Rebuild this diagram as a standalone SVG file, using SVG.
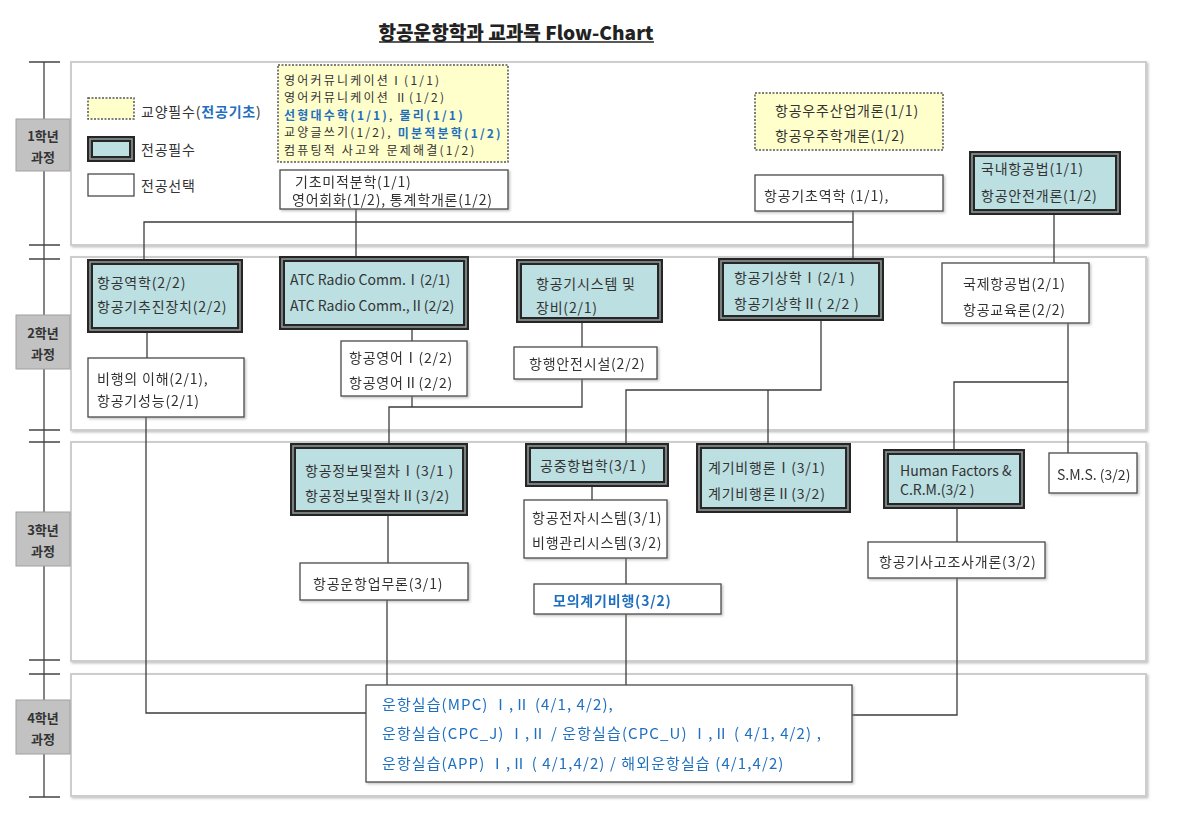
<svg xmlns="http://www.w3.org/2000/svg" width="1186" height="821" viewBox="0 0 1186 821">
<style>
.t{font-family:"Noto Sans CJK KR","Noto Sans",sans-serif;font-size:14px;letter-spacing:0.8px;fill:#333;dominant-baseline:central}
.en{letter-spacing:0}
.sm{font-size:12px;letter-spacing:2.2px}
.bl{fill:#1f6fbf}
.bb{fill:#1f6fbf;font-weight:bold}
.big{font-size:15px;letter-spacing:1.1px;fill:#1f6fbf}
.panel{fill:#fff;stroke:#cdcdcd;stroke-width:2}
.wbox{fill:#fff;stroke:#4a4a4a;stroke-width:1.3}
.ybox{fill:#ffffcc;stroke:#555;stroke-width:1.5;stroke-dasharray:2 1.5}
.tbox{fill:#bcdfe2;stroke:#262626;stroke-width:6}
.tin{fill:none;stroke:#8d9696;stroke-width:1.6}
.conn{fill:none;stroke:#3c3c3c;stroke-width:1.3}
.yr{fill:#c2c2c2;stroke:#a0a0a0;stroke-width:1}
.yt{font-family:"Noto Sans CJK KR","Noto Sans",sans-serif;font-size:13px;font-weight:bold;fill:#333;text-anchor:middle;dominant-baseline:central}
.tl{stroke:#444;stroke-width:1.3;fill:none}
</style>
<defs>
<filter id="sh" x="-5%" y="-5%" width="115%" height="125%">
<feDropShadow dx="1.5" dy="1.5" stdDeviation="0.8" flood-color="#888" flood-opacity="0.5"/>
</filter>
</defs>
<rect width="1186" height="821" fill="#fff"/>

<g id="title">
<text x="516" y="31" text-anchor="middle" textLength="275" lengthAdjust="spacingAndGlyphs" style="font-family:'Noto Sans CJK KR','Noto Sans',sans-serif;font-size:19px;font-weight:900;fill:#222;dominant-baseline:central">항공운항학과 교과목 Flow-Chart</text>
<line x1="379" y1="42" x2="654" y2="42" stroke="#222" stroke-width="1.6"/>
</g>

<g id="timeline">
<path class="tl" d="M44,62 V797 M29,62 H60 M29,245 H60 M29,259 H60 M29,430 H60 M29,442 H60 M29,660 H60 M29,674 H60 M29,797 H60"/>
</g>

<g id="panels" filter="url(#sh)">
<rect class="panel" x="71" y="62" width="1075" height="183"/>
<rect class="panel" x="71" y="257" width="1075" height="173"/>
<rect class="panel" x="71" y="442" width="1075" height="219"/>
<rect class="panel" x="71" y="674" width="1075" height="122"/>
</g>

<g id="years">
<g id="y1"><rect class="yr" x="16" y="119" width="54" height="52"/><text class="yt" x="43" y="135">1학년</text><text class="yt" x="43" y="156">과정</text></g>
<g id="y2"><rect class="yr" x="16" y="315" width="54" height="54"/><text class="yt" x="43" y="332">2학년</text><text class="yt" x="43" y="353">과정</text></g>
<g id="y3"><rect class="yr" x="16" y="512" width="54" height="54"/><text class="yt" x="43" y="529">3학년</text><text class="yt" x="43" y="550">과정</text></g>
<g id="y4"><rect class="yr" x="16" y="700" width="54" height="54"/><text class="yt" x="43" y="717">4학년</text><text class="yt" x="43" y="738">과정</text></g>
</g>

<g id="legend">
<rect class="ybox" x="88" y="98" width="46" height="21"/>
<text class="t" x="141" y="111">교양필수(<tspan class="bb">전공기초</tspan>)</text>
<rect class="tbox" x="90" y="139" width="42" height="20"/><rect class="tin" x="90" y="139" width="42" height="20"/>
<text class="t" x="141" y="149">전공필수</text>
<rect class="wbox" x="88" y="174" width="46" height="22"/>
<text class="t" x="141" y="185">전공선택</text>
</g>

<g id="connectors">
<path class="conn" d="M144,259 V222 H853"/>
<path class="conn" d="M356,209 V256"/>
<path class="conn" d="M853,211 V258"/>
<path class="conn" d="M1054,215 V263"/>
<path class="conn" d="M147,333 V358"/>
<path class="conn" d="M146,417 V713 H366"/>
<path class="conn" d="M412,330 V341"/>
<path class="conn" d="M412,396 V407"/>
<path class="conn" d="M582,323 V347"/>
<path class="conn" d="M582,379 V407 H389 V443"/>
<path class="conn" d="M821,321 V390 H626 V443"/>
<path class="conn" d="M768,390 V443"/>
<path class="conn" d="M1068,323 V453"/>
<path class="conn" d="M1068,382 H954 V449"/>
<path class="conn" d="M388,516 V563"/>
<path class="conn" d="M387,600 V685"/>
<path class="conn" d="M592,487 V500"/>
<path class="conn" d="M626,558 V584"/>
<path class="conn" d="M626,614 V685"/>
<path class="conn" d="M957,509 V542"/>
<path class="conn" d="M957,578 V715 H852"/>
</g>

<g id="n-gyoyang1">
<rect class="ybox" x="278" y="65" width="230" height="97"/>
<text class="t sm" x="284" y="79">영어커뮤니케이션Ⅰ(1/1)</text>
<text class="t sm" x="284" y="96.5">영어커뮤니케이션 Ⅱ(1/2)</text>
<text class="t sm" x="284" y="114"><tspan class="bb">선형대수학(1/1)</tspan>, <tspan class="bb">물리(1/1)</tspan></text>
<text class="t sm" x="284" y="131.5">교양글쓰기(1/2), <tspan class="bb">미분적분학(1/2)</tspan></text>
<text class="t sm" x="284" y="149">컴퓨팅적 사고와 문제해결(1/2)</text>
</g>
<g id="n-calc" filter="url(#sh)">
<rect class="wbox" x="280" y="170" width="228" height="39"/>
<text class="t" x="295" y="181">기초미적분학(1/1)</text>
<text class="t" x="292" y="199">영어회화(1/2), 통계학개론(1/2)</text>
</g>
<g id="n-gyoyang2">
<rect class="ybox" x="755" y="93" width="188" height="57"/>
<text class="t" x="775" y="110">항공우주산업개론(1/1)</text>
<text class="t" x="775" y="135">항공우주학개론(1/2)</text>
</g>
<g id="n-mech" filter="url(#sh)">
<rect class="wbox" x="755" y="175" width="188" height="36"/>
<text class="t" x="764" y="195">항공기초역학 (1/1),</text>
</g>
<g id="n-domlaw">
<rect class="tbox" x="972" y="154" width="146" height="58"/><rect class="tin" x="972" y="154" width="146" height="58"/>
<text class="t" x="981" y="168">국내항공법(1/1)</text>
<text class="t" x="981" y="195">항공안전개론(1/2)</text>
</g>

<g id="n-aero">
<rect class="tbox" x="90" y="262" width="150" height="68"/><rect class="tin" x="90" y="262" width="150" height="68"/>
<text class="t" x="97" y="282">항공역학(2/2)</text>
<text class="t" x="97" y="306">항공기추진장치(2/2)</text>
</g>
<g id="n-atc">
<rect class="tbox" x="282" y="259" width="184" height="68"/><rect class="tin" x="282" y="259" width="184" height="68"/>
<text class="t en" x="290" y="279">ATC Radio Comm.Ⅰ(2/1)</text>
<text class="t en" x="290" y="305">ATC Radio Comm.,Ⅱ(2/2)</text>
</g>
<g id="n-sys">
<rect class="tbox" x="519" y="262" width="141" height="58"/><rect class="tin" x="519" y="262" width="141" height="58"/>
<text class="t" x="536" y="283">항공기시스템 및</text>
<text class="t" x="536" y="307">장비(2/1)</text>
</g>
<g id="n-met">
<rect class="tbox" x="721" y="261" width="160" height="57"/><rect class="tin" x="721" y="261" width="160" height="57"/>
<text class="t" x="734" y="277">항공기상학Ⅰ(2/1 )</text>
<text class="t" x="734" y="303">항공기상학Ⅱ( 2/2 )</text>
</g>
<g id="n-intlaw" filter="url(#sh)">
<rect class="wbox" x="942" y="263" width="147" height="60"/>
<text class="t" x="963" y="283">국제항공법(2/1)</text>
<text class="t" x="963" y="309">항공교육론(2/2)</text>
</g>
<g id="n-flight" filter="url(#sh)">
<rect class="wbox" x="88" y="358" width="156" height="59"/>
<text class="t" x="97" y="378">비행의 이해(2/1),</text>
<text class="t" x="97" y="400">항공기성능(2/1)</text>
</g>
<g id="n-eng" filter="url(#sh)">
<rect class="wbox" x="341" y="341" width="126" height="55"/>
<text class="t" x="349" y="357">항공영어Ⅰ(2/2)</text>
<text class="t" x="349" y="382">항공영어Ⅱ(2/2)</text>
</g>
<g id="n-nav" filter="url(#sh)">
<rect class="wbox" x="514" y="347" width="143" height="32"/>
<text class="t" x="529" y="363">항행안전시설(2/2)</text>
</g>

<g id="n-aip">
<rect class="tbox" x="293" y="446" width="172" height="67"/><rect class="tin" x="293" y="446" width="172" height="67"/>
<text class="t" x="305" y="470">항공정보및절차Ⅰ(3/1 )</text>
<text class="t" x="305" y="495">항공정보및절차Ⅱ(3/2)</text>
</g>
<g id="n-airnav">
<rect class="tbox" x="528" y="446" width="138" height="38"/><rect class="tin" x="528" y="446" width="138" height="38"/>
<text class="t" x="540" y="465">공중항법학(3/1 )</text>
</g>
<g id="n-ifr">
<rect class="tbox" x="699" y="446" width="149" height="64"/><rect class="tin" x="699" y="446" width="149" height="64"/>
<text class="t" x="708" y="467">계기비행론Ⅰ(3/1)</text>
<text class="t" x="708" y="493">계기비행론Ⅱ(3/2)</text>
</g>
<g id="n-hf">
<rect class="tbox" x="886" y="452" width="136" height="54"/><rect class="tin" x="886" y="452" width="136" height="54"/>
<text class="t en" x="900" y="470">Human Factors &amp;</text>
<text class="t en" x="900" y="489">C.R.M.(3/2 )</text>
</g>
<g id="n-sms" filter="url(#sh)">
<rect class="wbox" x="1049" y="453" width="88" height="40"/>
<text class="t en" x="1057" y="474">S.M.S. (3/2)</text>
</g>
<g id="n-avionics" filter="url(#sh)">
<rect class="wbox" x="524" y="500" width="143" height="58"/>
<text class="t" x="532" y="517">항공전자시스템(3/1)</text>
<text class="t" x="532" y="542">비행관리시스템(3/2)</text>
</g>
<g id="n-ops" filter="url(#sh)">
<rect class="wbox" x="300" y="563" width="168" height="37"/>
<text class="t" x="313" y="583">항공운항업무론(3/1)</text>
</g>
<g id="n-sim" filter="url(#sh)">
<rect class="wbox" x="534" y="584" width="187" height="30"/>
<text class="t bb" x="553" y="600">모의계기비행(3/2)</text>
</g>
<g id="n-accident" filter="url(#sh)">
<rect class="wbox" x="868" y="542" width="177" height="36"/>
<text class="t" x="879" y="561">항공기사고조사개론(3/2)</text>
</g>

<g id="n-practice" filter="url(#sh)">
<rect class="wbox" x="366" y="685" width="486" height="97"/>
<text class="t big" x="382" y="703">운항실습(MPC)  Ⅰ,Ⅱ (4/1, 4/2),</text>
<text class="t big" x="382" y="732">운항실습(CPC_J)  Ⅰ,Ⅱ / 운항실습(CPC_U)  Ⅰ,Ⅱ ( 4/1, 4/2) ,</text>
<text class="t big" x="382" y="762">운항실습(APP) Ⅰ,Ⅱ ( 4/1,4/2) / 해외운항실습 (4/1,4/2)</text>
</g>
</svg>
